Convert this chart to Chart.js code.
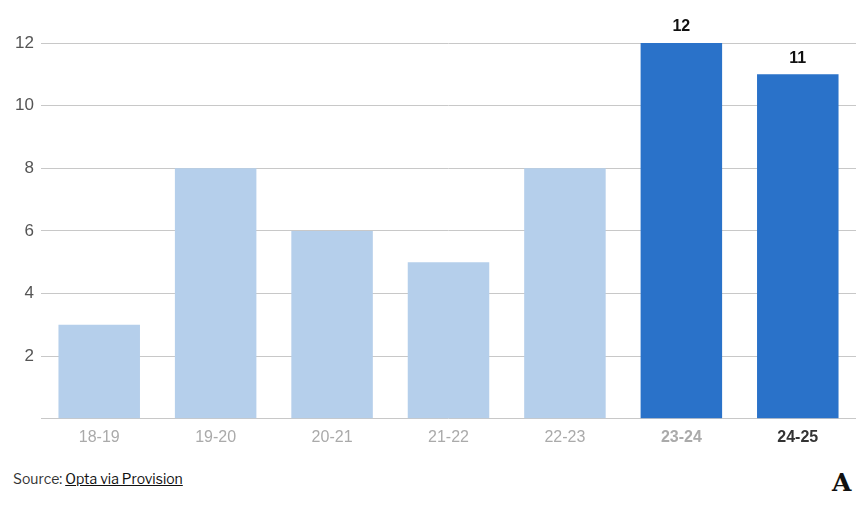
<!DOCTYPE html>
<html>
<head>
<meta charset="utf-8">
<script src="https://cdn.jsdelivr.net/npm/chart.js@4/dist/chart.umd.min.js"></script>
<style>
  body { margin: 0; background: #fff; font-family: "Libre Franklin", "Liberation Sans", Arial, sans-serif; }
  #wrap { position: relative; width: 861px; height: 513px; }
  #box { position: absolute; left: 0; top: 0; width: 861px; height: 448px; }
  #source { position: absolute; left: 13px; top: 470px; font-size: 14px; color: #333; }
  #source a { color: #111; text-decoration: underline; }
  #logo { position: absolute; left: 832px; top: 468px; font-family: "DejaVu Serif", serif; font-weight: bold; font-size: 25px; color: #111; }
</style>
</head>
<body>
<div id="wrap">
  <div id="box"><canvas id="chart"></canvas></div>
  <div id="source">Source: <a>Opta via Provision</a></div>
  <div id="logo">A</div>
</div>
<script>
// seasons and counts
var seasons = ['18-19', '19-20', '20-21', '21-22', '22-23', '23-24', '24-25'];
var counts = [3, 8, 6, 5, 8, 12, 11];
var highlighted = [false, false, false, false, false, true, true];
var y_ticks = [2, 4, 6, 8, 10, 12];

var light_blue = '#b5cfeb';
var dark_blue = '#2a72c9';

// labels above the highlighted bars only
var valueLabels = {
    id: 'valueLabels',
    afterDatasetsDraw(chart) {
        var ctx = chart.ctx;
        var meta = chart.getDatasetMeta(0);
        ctx.save();
        ctx.font = 'bold 16px "Liberation Sans", Arial, sans-serif';
        ctx.fillStyle = '#111';
        ctx.textAlign = 'center';
        ctx.textBaseline = 'bottom';
        meta.data.forEach((bar, i) => {
            if (highlighted[i]) {
                ctx.fillText(counts[i], bar.x, bar.y - 8);
            }
        });
        ctx.restore();
    }
};

window.onload = function() {
    const ctx = document.getElementById('chart');
    new Chart(ctx, {
        type: 'bar',
        data: {
            labels: seasons,
            datasets: [{
                data: counts,
                backgroundColor: highlighted.map(h => h ? dark_blue : light_blue),
                barPercentage: 0.7,
                categoryPercentage: 1.0
            }]
        },
        options: {
            responsive: true,
            maintainAspectRatio: false,
            animation: false,
            layout: { padding: { top: 43, right: 5, left: 0, bottom: 0 } },
            plugins: { legend: { display: false }, tooltip: { enabled: false } },
            scales: {
                x: {
                    grid: { display: false },
                    border: { display: false },
                    ticks: {
                        padding: 1,
                        color: (c) => c.index == 6 ? '#333' : '#aaa',
                        font: (c) => ({
                            family: '"Liberation Sans", Arial, sans-serif',
                            size: 16,
                            weight: highlighted[c.index] ? 'bold' : 'normal'
                        })
                    }
                },
                y: {
                    min: 0,
                    max: 12,
                    afterBuildTicks: (axis) => {
                        axis.ticks = [0].concat(y_ticks).map(v => ({ value: v }));
                    },
                    afterFit: (axis) => { axis.width = 41; },
                    grid: { color: '#c8c8c8', drawTicks: false },
                    border: { display: false },
                    ticks: {
                        padding: 7,
                        color: '#555',
                        font: { family: '"Liberation Sans", Arial, sans-serif', size: 17 },
                        callback: (v) => v == 0 ? '' : v
                    }
                }
            }
        },
        plugins: [valueLabels]
    });
}
</script>
</body>
</html>
